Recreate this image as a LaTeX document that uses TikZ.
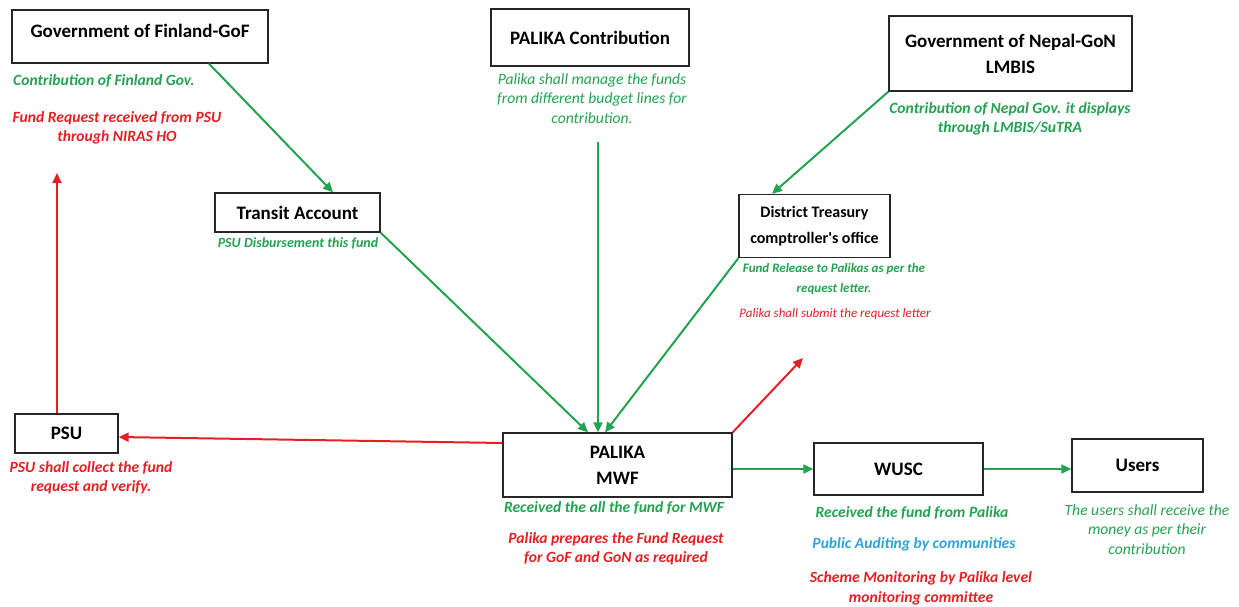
\documentclass[tikz,border=0pt]{standalone}
\usepackage{fontspec}
\setmainfont{Carlito}
\usepackage{tikz}
\usetikzlibrary{positioning,arrows.meta}

\definecolor{fundgreen}{RGB}{34,163,80}
\definecolor{reqred}{RGB}{228,32,36}
\definecolor{auditblue}{RGB}{46,163,220}

\begin{document}
\begin{tikzpicture}[x=1pt,y=-1pt,
  box/.style={draw=black!85, line width=1.3pt, align=center, inner sep=0pt, font=\fontsize{19}{26}\selectfont\bfseries},
  boldnote/.style={align=center, inner sep=0pt, font=\fontsize{15.6}{19.5}\selectfont\bfseries\itshape},
  softnote/.style={align=center, inner sep=0pt, font=\fontsize{15.6}{19.5}\selectfont\itshape},
  flow/.style={draw=fundgreen, line width=2pt, -{Triangle[length=10pt,width=9pt]}},
  request/.style={draw=reqred, line width=2pt, -{Triangle[length=10pt,width=9pt]}}]
\useasboundingbox (0,0) rectangle (1239,606);

\node[box, minimum width=256pt, minimum height=53pt, text height=18pt, text depth=17pt, inner ysep=9pt] (fin) at (140,36.5) {Government of Finland-GoF};
\node[box, minimum width=198pt, minimum height=57pt] (pcontrib) at (590,37.5) {PALIKA Contribution};
\node[box, minimum width=243pt, minimum height=75pt] (nepal) at (1010.5,53.5) {Government of Nepal-GoN\\LMBIS};
\node[box, minimum width=165pt, minimum height=39pt] (transit) at (297.5,212.5) {Transit Account};
\node[box, minimum width=151pt, minimum height=63pt, font=\fontsize{16}{26}\selectfont\bfseries] (treasury) at (814.5,226) {District Treasury\\comptroller\textquotesingle s office};
\node[box, minimum width=103pt, minimum height=39pt] (psu) at (66.5,433.5) {PSU};
\node[box, minimum width=229pt, minimum height=64pt] (palika) at (617.5,465) {PALIKA\\MWF};
\node[box, minimum width=169pt, minimum height=52pt] (wusc) at (898.5,469) {WUSC};
\node[box, minimum width=131pt, minimum height=53pt] (users) at (1137.5,465.5) {Users};

% notes under the boxes
\node[boldnote, text=fundgreen, anchor=west] (finnote) at (13,81) {Contribution of Finland Gov.};
\node[boldnote, text=reqred] (finreq) at (117,128) {Fund Request received from PSU\\through NIRAS HO};
\node[softnote, text=fundgreen] (pcnote) at (592,98.5) {Palika shall manage the funds\\from different budget lines for\\contribution.};
\node[boldnote, text=fundgreen] (nepnote) at (1010,119) {Contribution of Nepal Gov. it displays\\through LMBIS/SuTRA};
\node[boldnote, text=fundgreen, font=\fontsize{14}{16}\selectfont\bfseries\itshape] (transnote) at (298,243) {PSU Disbursement this fund};
\node[boldnote, text=fundgreen, font=\fontsize{13}{20}\selectfont\bfseries\itshape] (trsnote) at (834,279) {Fund Release to Palikas as per the\\request letter.};
\node[softnote, text=reqred, font=\fontsize{13}{20}\selectfont\itshape] (trsreq) at (835,314) {Palika shall submit the request letter};
\node[boldnote, text=reqred] (psunote) at (91,477.5) {PSU shall collect the fund\\request and verify.};
\node[boldnote, text=fundgreen] (palnote) at (614,508) {Received the all the fund for MWF};
\node[boldnote, text=reqred] (palreq) at (616,548.5) {Palika prepares the Fund Request\\for GoF and GoN as required};
\node[boldnote, text=fundgreen] (wusnote) at (912,513) {Received the fund from Palika};
\node[boldnote, text=auditblue] (wusaudit) at (914,544) {Public Auditing by communities};
\node[boldnote, text=reqred] (wusreq) at (921,588.5) {Scheme Monitoring by Palika level\\monitoring committee};
\node[softnote, text=fundgreen] (usrnote) at (1147,529.5) {The users shall receive the\\money as per their\\contribution};

\coordinate (pcstart) at (598,142);
\coordinate (reqout) at (803,358);
\coordinate (psutop) at (57,173);

% fund flow
\draw[flow] ([xshift=69pt]fin.south) -- ([xshift=35.5pt]transit.north);
\draw[flow] (transit.south east) -- ([xshift=-29.5pt]palika.north);
\draw[flow] (pcstart) -- ([xshift=-19.5pt]palika.north);
\draw[flow] (nepal.south west) -- ([xshift=-42.5pt]treasury.north);
\draw[flow] (treasury.south west) -- ([xshift=-12.5pt]palika.north);
\draw[flow] (palika.east |- wusc.west) -- (wusc.west);
\draw[flow] (wusc.east) -- (wusc.east -| users.west);

% fund requests
\draw[request] (palika.north east) -- (reqout);
\draw[request] ([yshift=22pt]palika.west) -- ([yshift=-3.5pt]psu.east);
\draw[request] ([xshift=-9.5pt]psu.north) -- (psutop);

\end{tikzpicture}
\end{document}
